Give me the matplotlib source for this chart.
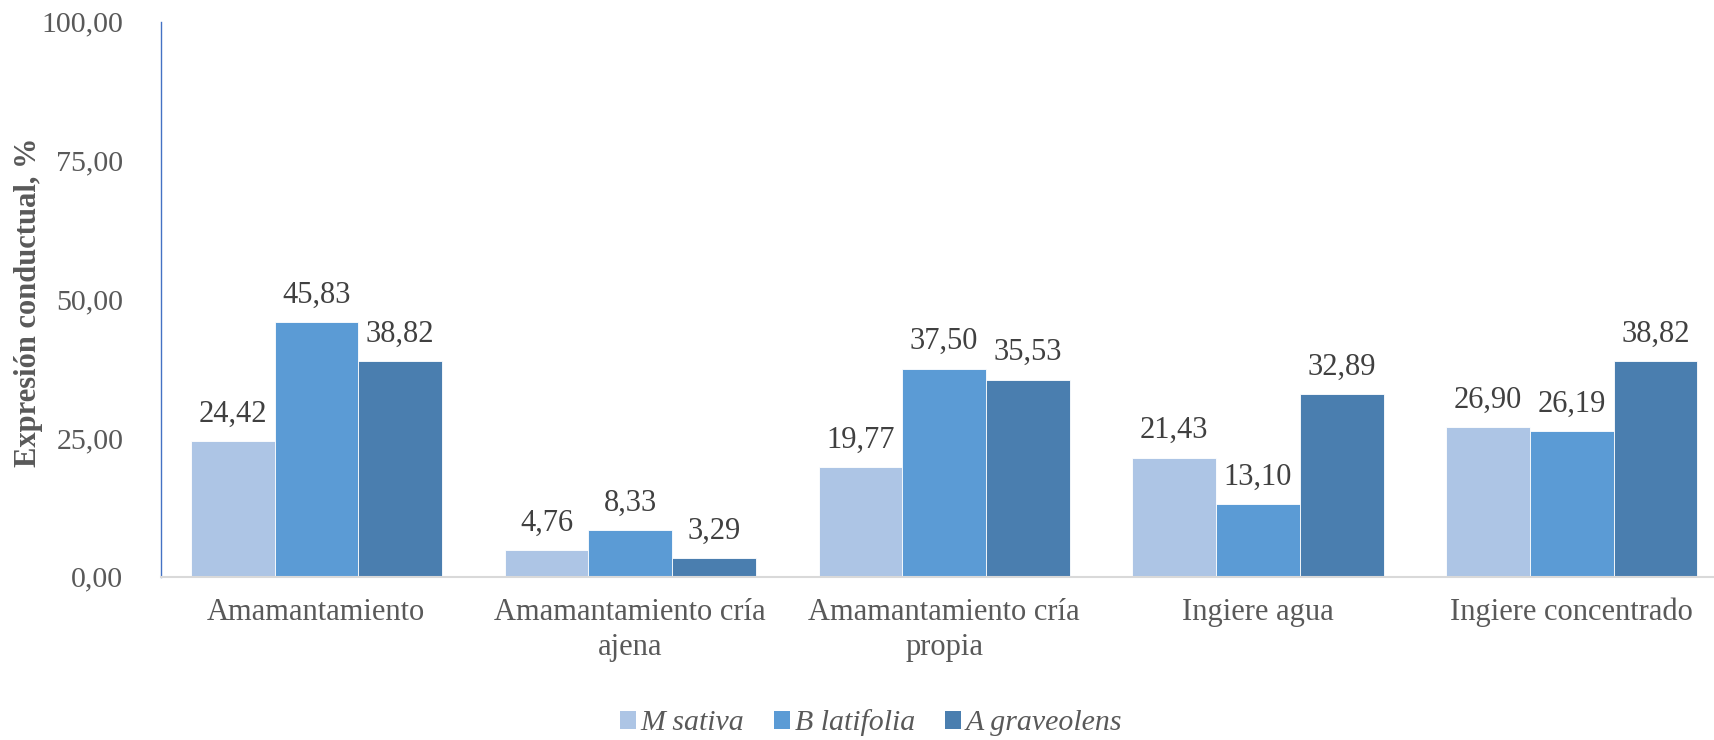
import matplotlib
matplotlib.use("Agg")
import matplotlib.pyplot as plt
import numpy as np
from matplotlib.ticker import FuncFormatter
from matplotlib.patches import Patch

categories = ["Amamantamiento", "Amamantamiento cría\najena",
              "Amamantamiento cría\npropia", "Ingiere agua", "Ingiere concentrado"]
series_names = ["M sativa", "B latifolia", "A graveolens"]
m_sativa = [24.42, 4.76, 19.77, 21.43, 26.90]
b_latifolia = [45.83, 8.33, 37.50, 13.10, 26.19]
a_graveolens = [38.82, 3.29, 35.53, 32.89, 38.82]
y_ticks = [0, 25, 50, 75, 100]

colors = ["#ADC5E5", "#5B9BD5", "#4A7EAF"]
text_gray = "#595959"
value_gray = "#404040"

plt.rcParams["font.family"] = ["Liberation Serif", "DejaVu Serif"]

fig = plt.figure(figsize=(17.15, 7.40), dpi=100)
ax = fig.add_axes([161 / 1715, 1 - 576.7 / 740, 1 - 161 / 1715, 555 / 740])

x = np.arange(len(categories))
width = 0.2667
for i, (vals, col) in enumerate(zip([m_sativa, b_latifolia, a_graveolens], colors)):
    pos = x + (i - 1) * width
    bars = ax.bar(pos, vals, width=width, color=col, edgecolor="white",
                  linewidth=0.6, zorder=2)
    for b, v in zip(bars, vals):
        ax.annotate(f"{v:.2f}".replace(".", ","),
                    (b.get_x() + b.get_width() / 2, v),
                    xytext=(0, 9), textcoords="offset points",
                    ha="center", va="bottom", fontsize=22, color=value_gray)

ax.set_xlim(-0.495, 4.456)
ax.set_ylim(0, 100)
ax.set_yticks(y_ticks)
ax.yaxis.set_major_formatter(FuncFormatter(lambda v, p: f"{v:.2f}".replace(".", ",")))
ax.set_xticks(x)
ax.set_xticklabels(categories, linespacing=1.3)
ax.tick_params(axis="y", length=0, pad=27, labelsize=21.5, labelcolor=text_gray)
ax.tick_params(axis="x", length=0, pad=15, labelsize=22, labelcolor=text_gray)

for s in ["top", "right"]:
    ax.spines[s].set_visible(False)
ax.spines["left"].set_color("#4472C4")
ax.spines["left"].set_linewidth(1.0)
ax.spines["bottom"].set_color("#D9D9D9")
ax.spines["bottom"].set_linewidth(1.5)

ax.set_ylabel("Expresión conductual, %", fontsize=22, fontweight="bold",
              color=text_gray)
ax.yaxis.set_label_coords(-(161 - 43) / 1554, 0.495)

handles = [Patch(facecolor=c, edgecolor="none") for c in colors]
fig.legend(handles, series_names, loc="center",
           bbox_to_anchor=(871 / 1715, 1 - 723 / 740), ncol=3, frameon=False,
           prop={"style": "italic", "size": 21.5}, labelcolor=text_gray,
           handlelength=0.55, handleheight=0.55, handletextpad=0.15,
           columnspacing=1.0)

fig.savefig("out.png", dpi=100)
